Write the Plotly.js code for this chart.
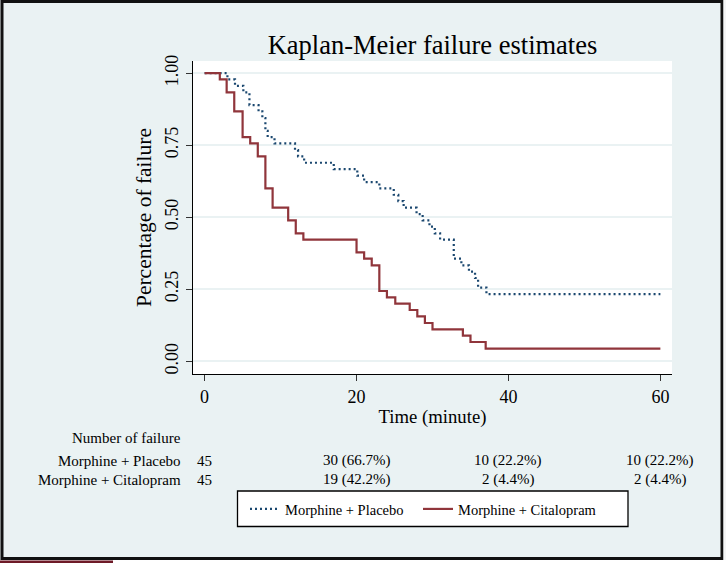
<!DOCTYPE html>
<html>
<head>
<meta charset="utf-8">
<script src="https://cdn.plot.ly/plotly-3.0.1.min.js"></script>
<style>html,body{margin:0;padding:0;background:#fff;}#chart{width:726px;height:563px;}</style>
</head>
<body>
<div id="chart"></div>
<script>
// ---- data ----
const seriesNames = ["Morphine + Placebo", "Morphine + Citalopram"];
const placeboTime = [0, 3.0, 4.0, 5.1, 5.9, 7.1, 7.6, 8.0, 8.3, 9.2, 11.9, 12.3, 13.1, 17.0, 20.1, 21.0, 23.0, 24.9, 25.5, 26.2, 27.9, 28.7, 29.6, 30.3, 31.0, 32.8, 33.8, 34.8, 35.6, 36.0, 37.1, 60];
const placeboFail = [1.000, 0.978, 0.956, 0.933, 0.889, 0.867, 0.844, 0.800, 0.778, 0.756, 0.733, 0.711, 0.689, 0.667, 0.644, 0.622, 0.600, 0.578, 0.556, 0.533, 0.511, 0.489, 0.467, 0.444, 0.422, 0.356, 0.333, 0.311, 0.289, 0.256, 0.233, 0.233];
const citaTime = [0, 2.0, 2.9, 3.9, 5.0, 6.0, 7.0, 8.0, 8.95, 11.0, 12.0, 13.0, 20.0, 21.0, 22.0, 23.0, 24.0, 25.1, 27.0, 28.0, 29.0, 30.0, 34.0, 35.0, 37.0, 60];
const citaFail = [1.000, 0.978, 0.933, 0.867, 0.778, 0.756, 0.711, 0.600, 0.533, 0.489, 0.444, 0.422, 0.378, 0.356, 0.333, 0.244, 0.222, 0.200, 0.178, 0.156, 0.133, 0.111, 0.089, 0.067, 0.044, 0.044];
const xTickVals = [0, 20, 40, 60];
const yTickVals = [0, 0.25, 0.5, 0.75, 1];
const yTickText = ["0.00", "0.25", "0.50", "0.75", "1.00"];
const tableTitle = "Number of failure";
const tableTimes = [0, 20, 40, 60];
const placeboCounts = ["45", "30 (66.7%)", "10 (22.2%)", "10 (22.2%)"];
const citaCounts = ["45", "19 (42.2%)", "2 (4.4%)", "2 (4.4%)"];

// ---- layout geometry ----
const W = 726, H = 563;
const M = {l: 193, r: 54, t: 61, b: 189};
const PW = W - M.l - M.r, PH = H - M.t - M.b;
const px = x => (x - M.l) / PW;          // pixel x -> paper x
const py = y => (H - M.b - y) / PH;      // pixel y -> paper y
const FONT = "Liberation Serif";
const NAVY = "#1a476f", MAROON = "#90353b", BG = "#eaf2f3";

const traces = [
  {x: placeboTime, y: placeboFail, name: seriesNames[0], type: "scatter", mode: "lines", legend: "legend",
   line: {shape: "hv", color: NAVY, width: 2.2, dash: "2px,3px"}},
  {x: citaTime, y: citaFail, name: seriesNames[1], type: "scatter", mode: "lines", legend: "legend2",
   line: {shape: "hv", color: MAROON, width: 2.2}}
];

const annotations = [];
annotations.push({xref: "paper", yref: "paper", x: px(183), y: py(438), xanchor: "right", yanchor: "middle",
  text: tableTitle, showarrow: false, font: {family: FONT, size: 15, color: "#000"}});
const rows = [[seriesNames[0], placeboCounts, 460.5], [seriesNames[1], citaCounts, 479.5]];
rows.forEach(r => {
  annotations.push({xref: "paper", yref: "paper", x: px(183), y: py(r[2]), xanchor: "right", yanchor: "middle",
    text: r[0], showarrow: false, font: {family: FONT, size: 15, color: "#000"}});
  tableTimes.forEach((t, i) => {
    annotations.push({xref: "x", yref: "paper", x: t, y: py(r[2]), xanchor: "center", yanchor: "middle",
      text: r[1][i], showarrow: false, font: {family: FONT, size: 15, color: "#000"}});
  });
});

const shapes = [
  // legend box
  {type: "rect", xref: "paper", yref: "paper", x0: px(237.5), x1: px(628), y0: py(491), y1: py(526.5),
   line: {color: "#000", width: 1.3}, fillcolor: "#fff", layer: "above"},
  // outer frame
  {type: "rect", xref: "paper", yref: "paper", x0: px(2), x1: px(722), y0: py(1.5), y1: py(558.5),
   line: {color: "#111", width: 3}, fillcolor: "rgba(0,0,0,0)", layer: "above"},
  // page outside the frame
  {type: "rect", xref: "paper", yref: "paper", x0: px(723.5), x1: px(727), y0: py(-1), y1: py(564),
   line: {width: 0}, fillcolor: "#f5f6f6", layer: "above"},
  {type: "rect", xref: "paper", yref: "paper", x0: px(-1), x1: px(727), y0: py(560), y1: py(564),
   line: {width: 0}, fillcolor: "#ffffff", layer: "above"},
  {type: "rect", xref: "paper", yref: "paper", x0: px(-1), x1: px(113), y0: py(560.5), y1: py(564),
   line: {width: 0}, fillcolor: "#6e1a28", layer: "above"}
];

const legendBase = {orientation: "h", xanchor: "left", yanchor: "middle", y: py(509),
  bgcolor: "rgba(0,0,0,0)", borderwidth: 0, font: {family: FONT, size: 14.5, color: "#000"}};

const layout = {
  width: W, height: H,
  margin: M,
  paper_bgcolor: BG, plot_bgcolor: "#fff",
  font: {family: FONT, color: "#000"},
  showlegend: true,
  legend: Object.assign({}, legendBase, {x: px(245)}),
  legend2: Object.assign({}, legendBase, {x: px(418)}),
  title: {text: "Kaplan-Meier failure estimates", font: {family: FONT, size: 26.5, color: "#000"},
          x: 0.5, xref: "paper", xanchor: "center", y: 1 - 45 / H, yref: "container", yanchor: "middle"},
  xaxis: {range: [-1.53, 61.53], tickvals: xTickVals, showgrid: false, zeroline: false,
          showline: true, linecolor: "#000", linewidth: 1.4, ticks: "outside", ticklen: 6,
          tickcolor: "#333", tickwidth: 1.2, tickfont: {family: FONT, size: 18, color: "#000"},
          title: {text: "Time (minute)", font: {family: FONT, size: 18.7, color: "#000"}, standoff: 4},
          automargin: false},
  yaxis: {range: [-0.044, 1.042], tickvals: yTickVals, ticktext: yTickText, tickangle: -90,
          showgrid: true, gridcolor: BG, gridwidth: 2, zeroline: false,
          showline: true, linecolor: "#000", linewidth: 1.4, ticks: "outside", ticklen: 6,
          tickcolor: "#333", tickwidth: 1.2, tickfont: {family: FONT, size: 18, color: "#000"},
          title: {text: "Percentage of failure", font: {family: FONT, size: 21.5, color: "#000"}, standoff: 5},
          automargin: false},
  annotations: annotations,
  shapes: shapes
};

Plotly.newPlot("chart", traces, layout, {displayModeBar: false, staticPlot: true});
</script>
</body>
</html>
